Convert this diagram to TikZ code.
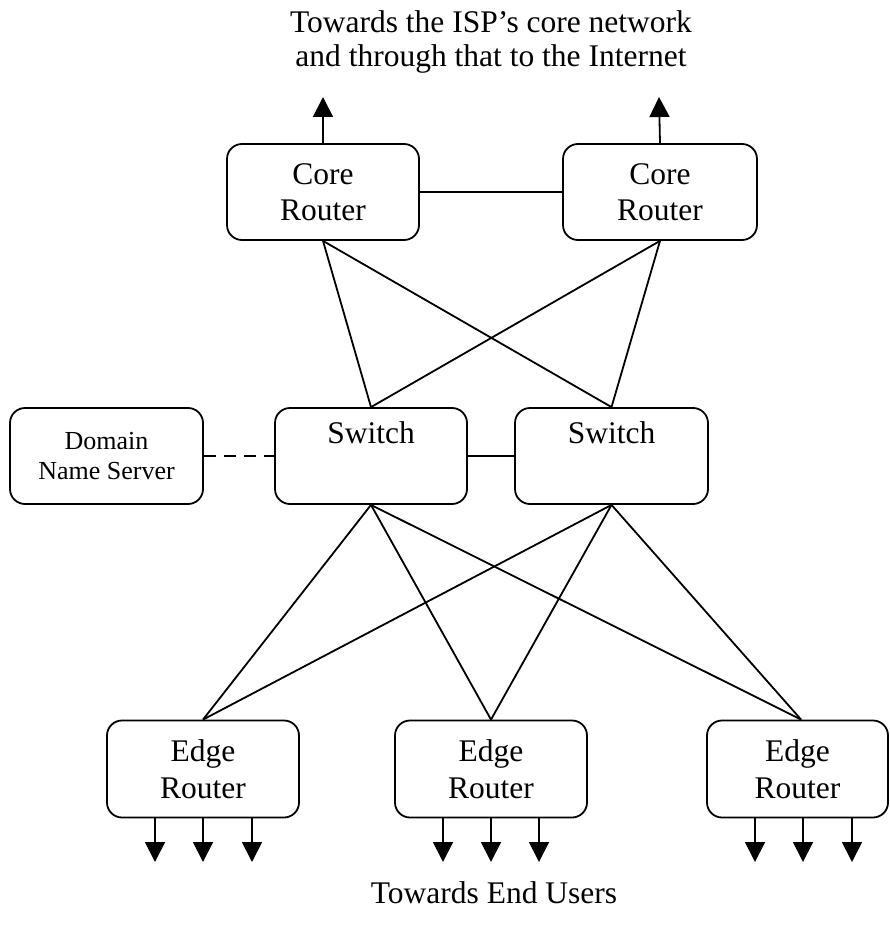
\documentclass[tikz,border=0pt]{standalone}
\usepackage{fontspec}
\setmainfont{Liberation Serif}
\usetikzlibrary{arrows.meta,calc}
\begin{document}
\begin{tikzpicture}[x=1pt,y=-1pt,
  box/.style={draw,line width=1.8pt,rounded corners=15pt,minimum width=192pt,minimum height=96pt,inner sep=0pt,align=center,font=\fontsize{31.5}{36.5}\selectfont},
  ttl/.style={font=\fontsize{31.5}{34}\selectfont,anchor=base,inner sep=0pt},
  link/.style={line width=1.8pt},
  dlink/.style={line width=1.8pt,dash pattern=on 12pt off 8pt},
  arr/.style={line width=1.8pt,-{Triangle[width=20pt,length=20pt]}}]
\useasboundingbox (0,0) rectangle (889,928);
% title texts
\node[ttl] (title1) at (491,33) {Towards the ISP’s core network};
\node[ttl] (title2) at (491,67) {and through that to the Internet};
\node[ttl] (users) at (494,903) {Towards End Users};
% nodes
\node[box] (coreL) at (323,192) {Core\\Router};
\node[box,minimum width=194pt] (coreR) at (660,192) {Core\\Router};
\node[box,minimum width=193pt,font=\fontsize{26}{30}\selectfont] (dns) at (106.5,456) {Domain\\Name Server};
\node[box] (swL) at (371,456) {Switch\\\strut};
\node[box,minimum width=193pt] (swR) at (611.5,456) {Switch\\\strut};
\node[box,minimum height=97pt] (edgeL) at (203,769) {Edge\\Router};
\node[box,minimum height=97pt] (edgeM) at (491,769) {Edge\\Router};
\node[box,minimum height=97pt,minimum width=181pt] (edgeR) at (797.5,769) {Edge\\Router};
\coordinate (eRtop) at ($(edgeR.north west)+(95,0)$);
% links
\draw[link] (coreL) -- (coreR);
\draw[link] (swL) -- (swR);
\draw[dlink] (dns.east) -- (swL.west);
\foreach \c in {coreL,coreR}{
  \draw[link] (\c.south) -- (swL.north);
  \draw[link] (\c.south) -- (swR.north);
}
\foreach \s in {swL,swR}{
  \draw[link] (\s.south) -- (edgeL.north);
  \draw[link] (\s.south) -- (edgeM.north);
  \draw[link] (\s.south) -- (eRtop);
}
% up arrows
\coordinate (upL) at (323,97);
\coordinate (upR) at (659,97);
\draw[arr] (coreL.north) -- (upL);
\draw[arr] (coreR.north) -- (upR);
% down arrows
\foreach \x in {155,203,252}{\draw[arr] (\x,817) -- (\x,862);}
\foreach \x in {443,491,539}{\draw[arr] (\x,817) -- (\x,862);}
\foreach \x in {755,803,852}{\draw[arr] (\x,817) -- (\x,862);}
\end{tikzpicture}
\end{document}
